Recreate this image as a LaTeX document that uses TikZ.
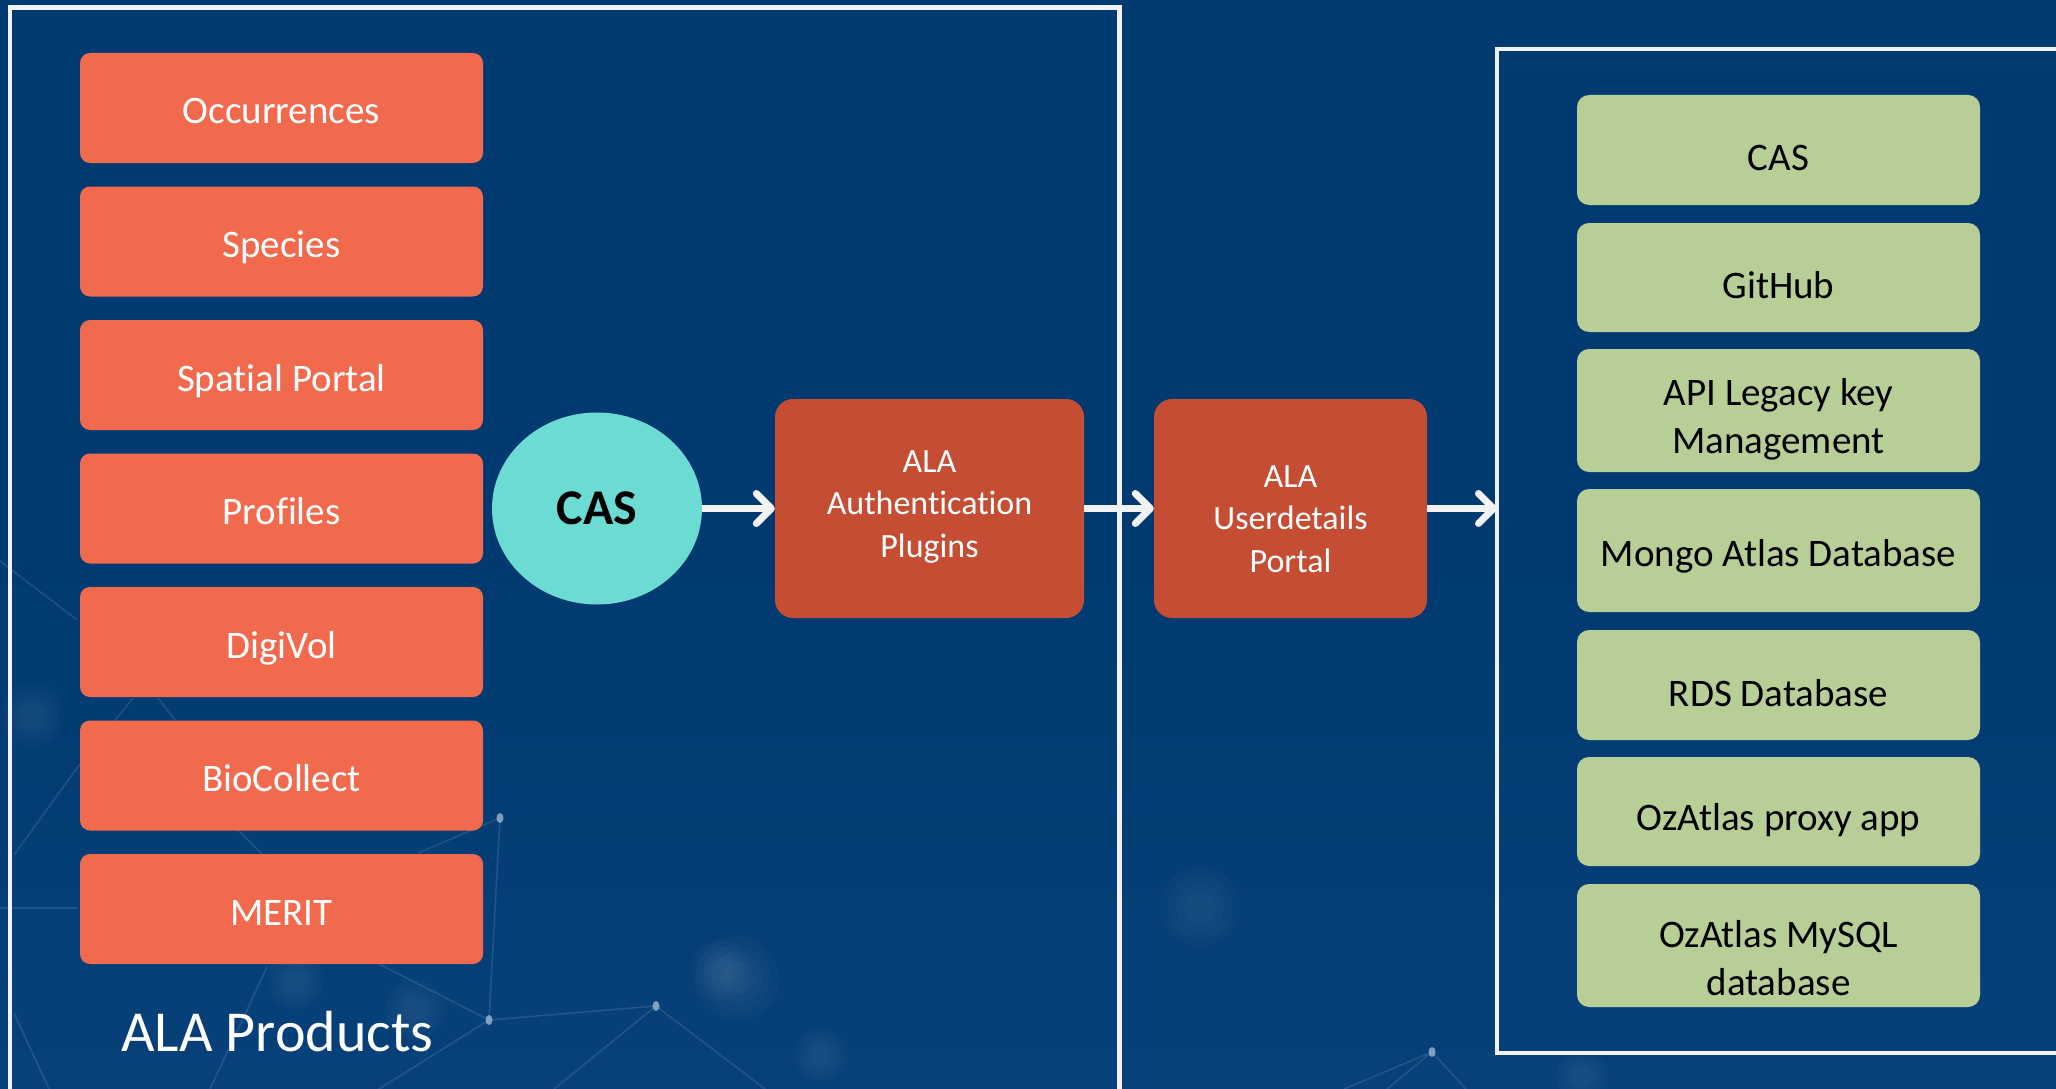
\documentclass[tikz,border=0pt]{standalone}
\usepackage{fontspec}
\setmainfont{Carlito}[Ligatures=NoCommon]
\usetikzlibrary{arrows.meta,shapes.geometric}
\definecolor{navy}{HTML}{003A70}
\definecolor{navyb}{HTML}{08417A}
\definecolor{orangebox}{HTML}{F26A4D}
\definecolor{redbox}{HTML}{C54D34}
\definecolor{cyanell}{HTML}{6CDBD3}
\definecolor{greenbox}{HTML}{B7CE97}
\definecolor{arrowwhite}{HTML}{F2F2F2}
\definecolor{netline}{HTML}{5C86B0}
\begin{document}
\begin{tikzpicture}[x=1pt,y=-1pt,
  prod/.style={rectangle, rounded corners=10pt, fill=orangebox, minimum width=403pt, minimum height=110pt, inner sep=0pt, text=white, font=\fontsize{39}{47}\selectfont, text height=40pt, text depth=8pt},
  svc/.style={rectangle, rounded corners=12pt, fill=greenbox, minimum width=403pt, inner sep=0pt, text=black, align=center, font=\fontsize{39}{48}\selectfont, text height=45pt, text depth=3pt},
  mid/.style={rectangle, rounded corners=18pt, fill=redbox, minimum height=219pt, inner sep=0pt, text=white, align=center, font=\fontsize{34}{42.5}\selectfont},
  frame/.style={draw=arrowwhite, line width=4.8pt},
  arr/.style={draw=arrowwhite, line width=7pt, -{Straight Barb[length=15pt,width=30pt,round]}},
  net/.style={draw=netline, line width=1.6pt, opacity=0.3},
  glow/.style={fill=white, opacity=0.018},
  dot/.style={fill=netline!60!white, opacity=0.8}
]
\useasboundingbox (0,0) rectangle (2056,1089);
\clip (0,0) rectangle (2056,1089);
% background
\shade[top color=navy, bottom color=navyb, middle color=navy] (0,0) rectangle (2056,1089);
% faint network decoration
\foreach \cx/\cy/\r in {295/981/28, 737/978/42, 821/1055/26, 32/715/32, 721/970/30, 1582/1077/26, 1200/907/40, 415/1010/30}
  \foreach \k in {1.0,0.8,0.6,0.4}
    \fill[glow] (\cx,\cy) circle ({\r*\k});
\draw[net] (0,561) -- (77,620);
\draw[net] (133,698) -- (77,768) -- (14,855);
\draw[net] (158,698) -- (175,720);
\draw[net] (239,831) -- (263,855);
\draw[net] (418,853) -- (500,818) -- (489,1020);
\draw[net] (0,908) -- (77,908);
\draw[net] (379,964) -- (489,1020) -- (656,1006) -- (765,1089);
\draw[net] (267,967) -- (210,1089);
\draw[net] (656,1006) -- (554,1089);
\draw[net] (489,1020) -- (379,1089);
\draw[net] (14,1013) -- (49,1089);
\draw[net] (1344,1089) -- (1432,1052) -- (1466,1089);
\draw[net] (1387,1089) -- (1432,1052);
\foreach \px/\py in {500/818, 489/1020, 656/1006, 1432/1052}
  \fill[dot] (\px,\py) ellipse (3.5 and 5);
% frames
\draw[frame] (10,7.5) rectangle (1119.5,1110);
\draw[frame] (1497,49) rectangle (2080,1053);
\coordinate (rframe) at (1497,508.5);
% products
\node[prod] (occ) at (281.5,108) {Occurrences};
\node[prod] (spe) at (281.5,241.5) {Species};
\node[prod] (spa) at (281.5,375) {Spatial Portal};
\node[prod] (pro) at (281.5,508.5) {Profiles};
\node[prod] (dig) at (281.5,642) {DigiVol};
\node[prod] (bio) at (281.5,775.5) {BioCollect};
\node[prod] (mer) at (281.5,909) {MERIT};
\node[text=white, anchor=base west, inner sep=0pt, font=\fontsize{58}{70}\selectfont] (prodlabel) at (121,1051) {ALA Products};
% CAS ellipse
\node[ellipse, fill=cyanell, minimum width=210pt, minimum height=192pt, inner sep=0pt, font=\fontsize{50}{60}\selectfont\bfseries, text=black] (casell) at (597,508.5) {CAS};
% middle boxes
\node[mid, minimum width=309pt, text height=100pt, text depth=3pt] (auth) at (929.5,508.5) {ALA\\Authentication\\Plugins};
\node[mid, minimum width=273pt, text height=130pt, text depth=3pt] (user) at (1290.5,508.5) {ALA\\Userdetails\\Portal};
% services
\node[svc, minimum height=110pt] (s1) at (1778.5,150) {CAS};
\node[svc, minimum height=109pt] (s2) at (1778.5,277.5) {GitHub};
\node[svc, minimum height=123pt, text height=89pt, text depth=3pt] (s3) at (1778.5,410.5) {API Legacy key\\Management};
\node[svc, minimum height=123pt, text height=40pt, text depth=9pt] (s4) at (1778.5,550.5) {Mongo Atlas Database};
\node[svc, minimum height=110pt] (s5) at (1778.5,685) {RDS Database};
\node[svc, minimum height=109pt, text height=43pt, text depth=5pt] (s6) at (1778.5,811.5) {OzAtlas proxy app};
\node[svc, minimum height=123pt, text height=102pt, text depth=3pt] (s7) at (1778.5,945.5) {OzAtlas MySQL\\database};
% arrows
\draw[arr] (casell.east |- auth.west) -- (auth.west);
\draw[arr] (auth.east) -- (user.west);
\draw[arr] (user.east) -- (rframe);
\end{tikzpicture}
\end{document}
